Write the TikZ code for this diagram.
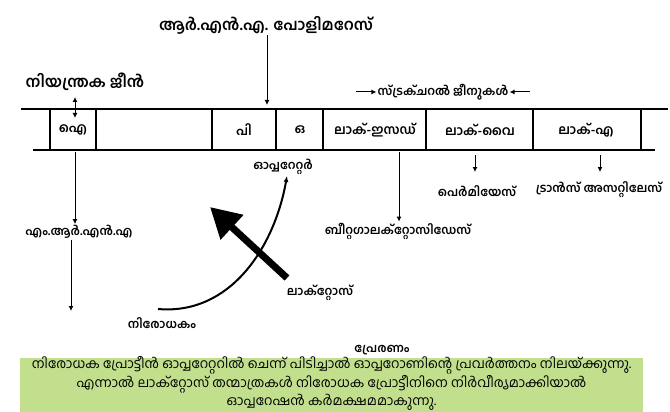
\documentclass[tikz,border=0pt]{standalone}
\usepackage{fontspec}
\usetikzlibrary{arrows.meta,positioning,calc}
\setmainfont[Script=Malayalam]{Hind Kochi}
\definecolor{Note}{HTML}{C2DF8E}

\begin{document}
\begin{tikzpicture}[x=1pt,y=-1pt,
  title/.style={font=\fontsize{15.5}{18}\selectfont\bfseries,inner sep=1pt},
  lbl/.style={font=\fontsize{12}{14}\selectfont\bfseries,inner sep=1pt},
  cell/.style={font=\fontsize{13}{15}\selectfont\bfseries,inner sep=1pt},
  arr/.style={line width=1pt,-{Latex[length=5pt,width=5pt]}},
  strand/.style={line width=2.2pt}]
\useasboundingbox (0,0) rectangle (670,412);
\node[title] (pol) at (266,25) {ആർ.എൻ.എ. പോളിമറേസ്};
\coordinate (polTip) at (267,105);
\draw[arr] (pol.south -| polTip) -- (polTip);
\node[title] (reg) at (85,82) {നിയന്ത്രക ജീൻ};
\coordinate (regTop) at (75,97);
\coordinate (regBot) at (75,118);
\draw[line width=1pt,{Latex[length=5pt,width=5pt]}-{Latex[length=5pt,width=5pt]}] (regTop) -- (regBot);
\node[lbl] (struct) at (443,92) {സ്ട്രക്ചറൽ ജീനുകൾ};
\draw[arr] ([xshift=-20pt]struct.west) -- (struct.west);
\draw[arr] ([xshift=20pt]struct.east) -- (struct.east);
\draw[strand] (21,109) -- (668,109);
\draw[strand] (33,150) -- (655,150);
\foreach \x in {50,96,212,276,323,426,533,641}
  \draw[line width=1.5pt] (\x,109) -- (\x,150);
\node[cell] (geneI) at (73,130) {ഐ};
\node[cell] (geneP) at (244,130) {പി};
\node[cell] (geneO) at (300,130) {ഒ};
\node[cell] (lacZ) at (375,130) {ലാക്-ഇസഡ്};
\node[cell] (lacY) at (480,130) {ലാക്-വൈ};
\node[cell] (lacA) at (586,130) {ലാക്-എ};
\node[lbl] (mrna) at (79,232) {എം.ആർ.എൻ.എ};
\coordinate (iOut) at (75,152);
\draw[arr] (iOut) -- (iOut |- mrna.north);
\coordinate (prot) at (71,311);
\draw[arr] (prot |- mrna.south) -- (prot);
\node[lbl] (oper) at (283,167) {ഓപ്പറേറ്റർ};
\node[lbl] (repr) at (162,323) {നിരോധകം};
\draw[line width=2pt,-{Latex[length=6pt,width=5pt]}] (158,309) to[out=-5,in=-100] (oper.south -| 287,0);
\node[lbl] (lact) at (320,293) {ലാക്റ്റോസ്};
\coordinate (lacTail) at (287,278);
\coordinate (lacTip) at (210,207);
\draw[line width=7pt,-{Triangle[length=30pt,width=32pt]}] (lacTail) -- (lacTip);
\coordinate (zOut) at (399,152);
\node[lbl] (bgal) at (398,231) {ബീറ്റഗാലക്റ്റോസിഡേസ്};
\draw[arr] (zOut) -- (zOut |- bgal.north);
\coordinate (yOut) at (475,155);
\node[lbl] (perm) at (477,191) {പെർമിയേസ്};
\draw[arr] (yOut) -- ++(0,17);
\coordinate (aOut) at (600,155);
\node[lbl] (trans) at (599,190) {ട്രാൻസ് അസറ്റിലേസ്};
\draw[arr] (aOut) -- ++(0,17);
\node[lbl] (induc) at (382,350) {പ്രേരണം};
\node[fill=Note,minimum width=623pt,minimum height=54pt,inner sep=0pt] (note) at (331.5,385) {};
\node[align=center,inner sep=0pt,font=\fontsize{13.3}{17}\selectfont] (noteText) at (331.5,383)
  {നിരോധക പ്രോട്ടീൻ ഓപ്പറേറ്ററിൽ ചെന്ന് പിടിച്ചാൽ ഓപ്പറോണിന്റെ പ്രവർത്തനം നിലയ്ക്കുന്നു.\\
   എന്നാൽ ലാക്റ്റോസ് തന്മാത്രകൾ നിരോധക പ്രോട്ടീനിനെ നിർവീര്യമാക്കിയാൽ\\
   ഓപ്പറേഷൻ കർമക്ഷമമാകുന്നു.};
\end{tikzpicture}
\end{document}
